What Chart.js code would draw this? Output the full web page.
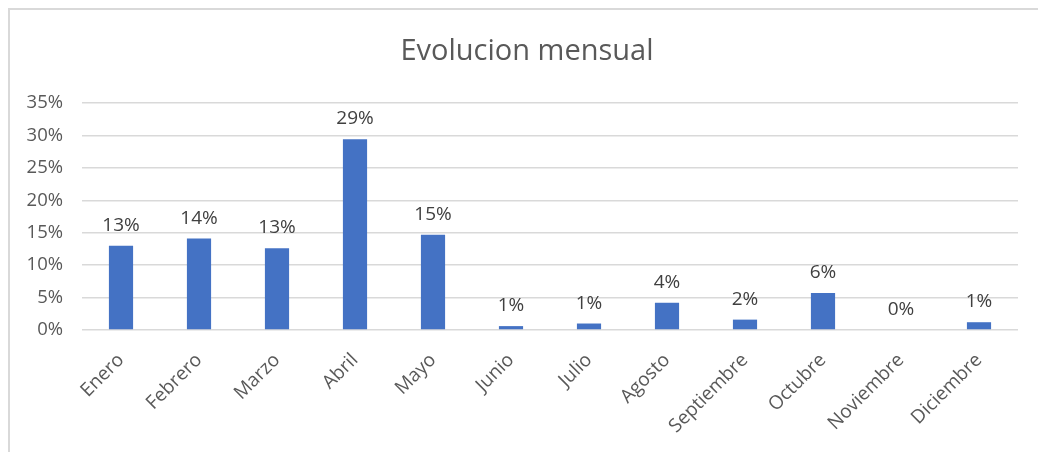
<!DOCTYPE html>
<html>
<head>
<meta charset="utf-8">
<script src="https://cdn.jsdelivr.net/npm/chart.js@4"></script>
<style>
  html, body { margin: 0; padding: 0; background: #fff; }
  #wrap { position: relative; width: 1038px; height: 452px; overflow: hidden; }
  #frame { position: absolute; left: 8px; top: 8px; width: 2000px; height: 2000px;
           border-top: 2px solid #d9d9d9; border-left: 2px solid #d9d9d9; }
  #chart { position: absolute; left: 0; top: 0; }
</style>
</head>
<body>
<div id="wrap">
  <div id="frame"></div>
  <canvas id="chart" width="1038" height="452"></canvas>
</div>
<script>
const months = ['Enero', 'Febrero', 'Marzo', 'Abril', 'Mayo', 'Junio', 'Julio',
  'Agosto', 'Septiembre', 'Octubre', 'Noviembre', 'Diciembre'];
// share per month, in percent
const share = [13.0, 14.1, 12.6, 29.4, 14.7, 0.6, 1.0, 4.2, 1.6, 5.7, 0, 1.2];

const chartTitle = 'Evolucion mensual';
const FONT = '"Open Sans", "DejaVu Sans", sans-serif';

// draws the value above each bar, like the Excel data labels,
// and the title centred on the whole frame rather than the plot
const barLabels = {
  id: 'barLabels',
  afterDatasetsDraw(chart) {
    const ctx = chart.ctx;
    const meta = chart.getDatasetMeta(0);
    ctx.save();
    ctx.font = '19px ' + FONT;
    ctx.fillStyle = '#404040';
    ctx.textAlign = 'center';
    ctx.textBaseline = 'alphabetic';
    meta.data.forEach((bar, i) => {
      ctx.fillText(Math.round(share[i]) + '%', bar.x, bar.y - 15);
    });

    ctx.font = '29px ' + FONT;
    ctx.fillStyle = '#595959';
    ctx.textBaseline = 'middle';
    ctx.fillText(chartTitle, 527, 52);
    ctx.restore();
  }
};

new Chart(document.getElementById('chart'), {
  type: 'bar',
  data: {
    labels: months,
    datasets: [{
      data: share,
      backgroundColor: '#4472c4',
      categoryPercentage: 1,
      barPercentage: 0.31,
    }]
  },
  options: {
    responsive: false,
    animation: false,
    layout: { padding: { left: 0, right: 20, top: 103, bottom: 0 } },
    plugins: {
      legend: { display: false },
      tooltip: { enabled: false },
      title: { display: false }
    },
    scales: {
      x: {
        grid: { display: false },
        border: { display: false },
        ticks: {
          color: '#595959',
          font: { family: FONT, size: 19 },
          minRotation: 45,
          maxRotation: 45,
          padding: 11
        },
        afterFit(scale) { scale.height = 122; }
      },
      y: {
        min: 0,
        max: 35,
        grid: { color: '#d9d9d9', lineWidth: 1.5, drawTicks: false },
        border: { display: false },
        ticks: {
          stepSize: 5,
          color: '#595959',
          font: { family: FONT, size: 18.5 },
          padding: 19,
          callback: (v) => v + '%'
        },
        afterFit(scale) { scale.width = 82; }
      }
    }
  },
  plugins: [barLabels]
});
</script>
</body>
</html>
